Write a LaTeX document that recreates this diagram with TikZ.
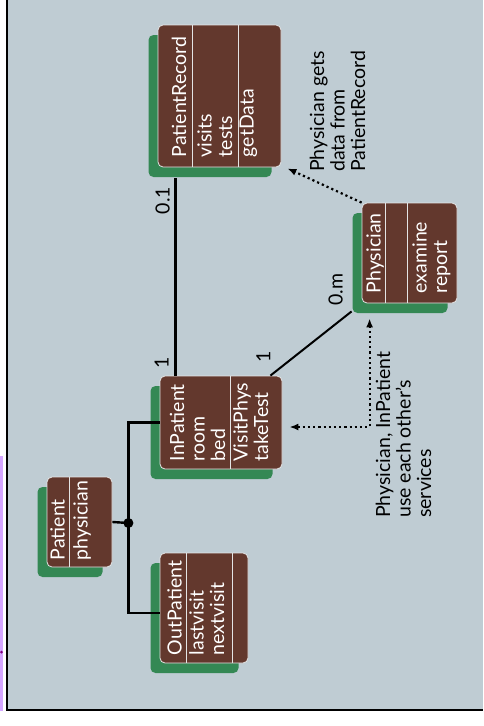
\documentclass[tikz,border=0pt]{standalone}
\usepackage{fontspec}
\setmainfont{Lato}
\usepackage{tikz}
\usetikzlibrary{arrows.meta,positioning,calc,shadows}
\definecolor{panelgrey}{RGB}{191,204,211}
\definecolor{classbrown}{RGB}{99,56,45}
\definecolor{shadowgreen}{RGB}{52,136,84}
\definecolor{edgeviolet}{RGB}{212,166,255}
\definecolor{rulewhite}{RGB}{228,228,228}

\begin{document}
\begin{tikzpicture}[
    x=1pt, y=-1pt,
    every node/.style={font=\fontsize{19.5}{20.5}\selectfont},
    classbox/.style={rectangle, rounded corners=5pt, draw=rulewhite, line width=0.8pt, fill=classbrown, drop shadow={shadow xshift=-9.5pt, shadow yshift=-10pt, fill=shadowgreen, opacity=1}},
    member/.style={rotate=90, anchor=base west, align=left, inner sep=0pt, text=white},
    note/.style={rotate=90, anchor=base west, align=left, inner sep=0pt},
    mult/.style={rotate=90, inner sep=0pt},
    divider/.style={draw=rulewhite, line width=0.8pt},
    assoc/.style={line width=2.4pt},
    depend/.style={line width=2.2pt, dash pattern=on 2.2pt off 3pt, >={Latex[length=9pt,width=7pt]}, ->}
]
\useasboundingbox (0,0) rectangle (483,726);

% Panel
\fill[white] (0,0) rectangle (483,726);
\fill[panelgrey] (7,0) rectangle (483,710);
\fill[edgeviolet] (0,456) rectangle (3,711);
\fill[violet] (1.5,652) circle (1.5pt);
\draw[line width=1.5pt] (7,0) -- (7,710) -- (483,710);

% Classes
\node[classbox, minimum width=123pt, minimum height=142pt] (patient_record) at (219.5,96) {};
\node[classbox, minimum width=95pt, minimum height=100pt] (physician) at (409.5,253) {};
\node[classbox, minimum width=122pt, minimum height=93pt] (in_patient) at (221,422.5) {};
\node[classbox, minimum width=65pt, minimum height=90pt] (patient) at (79.5,522) {};
\node[classbox, minimum width=88pt, minimum height=110pt] (out_patient) at (204,608) {};

% Compartments
\draw[divider] ($(patient_record.north west)+(35,0)$) -- ($(patient_record.south west)+(35,0)$);
\draw[divider] ($(patient_record.north west)+(81,0)$) -- ($(patient_record.south west)+(81,0)$);
\draw[divider] ($(physician.north west)+(24,0)$) -- ($(physician.south west)+(24,0)$);
\draw[divider] ($(physician.north west)+(46,0)$) -- ($(physician.south west)+(46,0)$);
\draw[divider] ($(in_patient.north west)+(71,0)$) -- ($(in_patient.south west)+(71,0)$);
\draw[divider] ($(patient.north west)+(23,0)$) -- ($(patient.south west)+(23,0)$);
\draw[divider] ($(out_patient.north west)+(27,0)$) -- ($(out_patient.south west)+(27,0)$);
\draw[divider] ($(out_patient.north west)+(73,0)$) -- ($(out_patient.south west)+(73,0)$);

% Members (base = last line)
\node[member] (pr_name) at ($(patient_record.south west)+(28.5,-10)$) {PatientRecord};
\node[member] (pr_attr) at ($(patient_record.south west)+(74.5,-10)$) {visits\\tests};
\node[member] (pr_ops) at ($(patient_record.south west)+(96,-10)$) {getData};
\node[member] (ph_name) at ($(physician.south west)+(19,-10)$) {Physician};
\node[member] (ph_ops) at ($(physician.south west)+(85.5,-10)$) {examine\\report};
\node[member] (ip_attr) at ($(in_patient.south west)+(65.5,-8)$) {InPatient\\room\\bed};
\node[member] (ip_ops) at ($(in_patient.south west)+(108.5,-8)$) {VisitPhys\\takeTest};
\node[member] (pa_name) at ($(patient.south west)+(18,-7)$) {Patient};
\node[member] (pa_attr) at ($(patient.south west)+(41,-7)$) {physician};
\node[member] (op_name) at ($(out_patient.south west)+(22,-8)$) {OutPatient};
\node[member] (op_attr) at ($(out_patient.south west)+(64.5,-8)$) {lastvisit\\nextvisit};

% Notes
\node[note] (note_data) at (365,172) {Physician gets\\data from\\PatientRecord};
\node[note] (note_use) at (431,518) {Physician, InPatient\\use each other's\\services};

% Multiplicities
\node[mult] (mult_pr) at ($(patient_record.south west)+(5,33)$) {0.1};
\node[mult] (mult_ip_pr) at ($(in_patient.north west)+(2,-13)$) {1};
\node[mult] (mult_ip_ph) at ($(in_patient.north east)+(-19,-19)$) {1};
\node[mult] (mult_ph) at ($(physician.south west)+(-26,-14)$) {0.m};

% Connections
\draw[assoc] ($(in_patient.north west)+(16,0)$) -- ($(in_patient.north west |- patient_record.south)+(16,11)$);
\draw[assoc, line width=2pt] ($(in_patient.north east)+(-12,0)$) -- ($(physician.south west)+(-10,8)$);
\draw[depend] (physician.north west) -- ($(patient_record.south east)+(6,1)$);
\draw[depend, <->] ($(in_patient.east)+(7,4.5)$) -| ($(physician.south west)+(8,15)$);

% Generalization
\coordinate (gen_dot) at ($(patient.east)+(16,1)$);
\draw[assoc] (patient.east) -- (gen_dot);
\draw[assoc] (in_patient.west) -| (gen_dot) |- ($(out_patient.west)+(0,5)$);
\fill (gen_dot) circle (5pt);

\end{tikzpicture}
\end{document}
